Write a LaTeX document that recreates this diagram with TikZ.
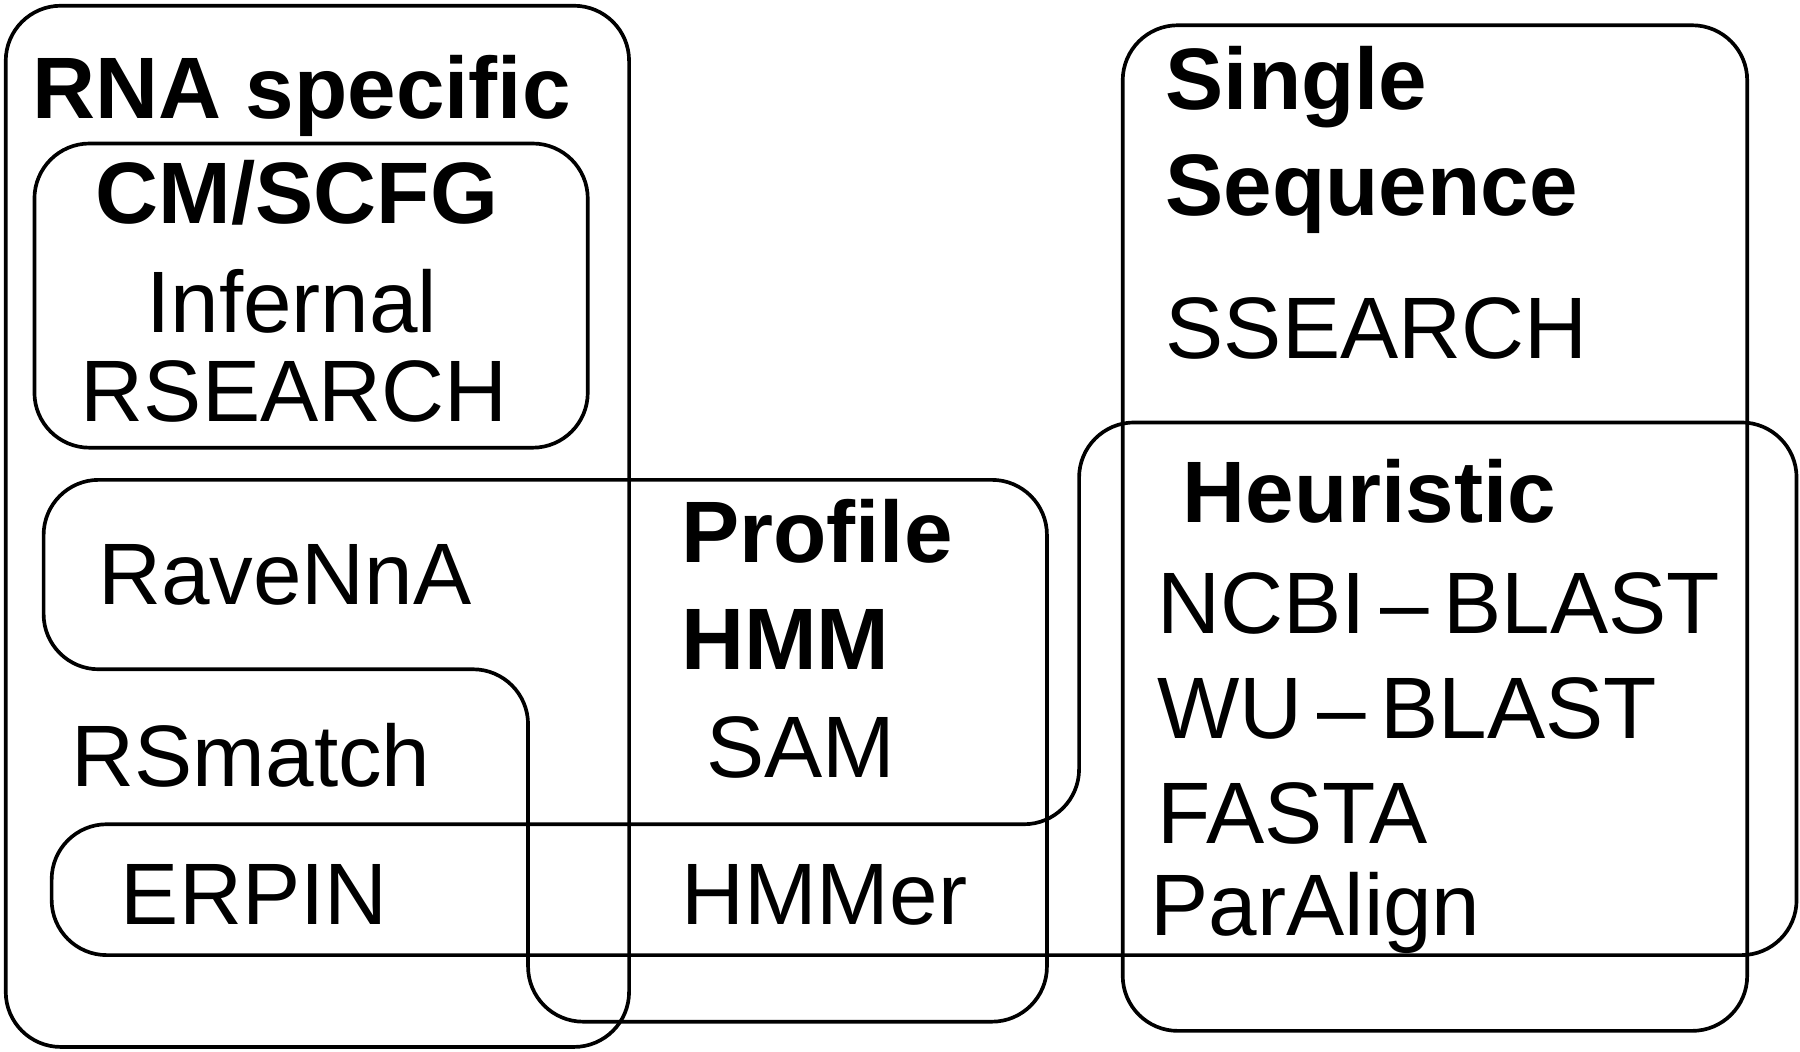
\documentclass[tikz,border=0pt]{standalone}
\usepackage{fontspec}
\setmainfont{Liberation Sans}
\begin{document}
\begin{tikzpicture}[x=0.5pt,y=-0.5pt,
  lbl/.style={anchor=base west,inner sep=0pt,font=\fontsize{38}{40}\selectfont},
  hd/.style={lbl,font=\fontsize{38}{40}\selectfont\bfseries},
  bx/.style={line width=1.6pt,rounded corners=24pt}]
\useasboundingbox (0,0) rectangle (1568,916);
\draw[bx] (5,5) rectangle (548,912);
\draw[bx] (30,125) rectangle (512,390);
\draw[bx] (978,22) rectangle (1522,898);
\draw[bx] (38,418) -- (912,418) -- (912,890) -- (460,890) -- (460,583) -- (38,583) -- cycle;
\draw[bx] (940,368) -- (1565,368) -- (1565,832) -- (45,832) -- (45,718) -- (940,718) -- cycle;
\node[hd] (rna) at (28,103) {RNA specific};
\node[hd] (cm) at (83,195) {CM/SCFG};
\node[lbl] (inf) at (127,290) {Infernal};
\node[lbl] (rs) at (70,367) {RSEARCH};
\node[lbl] (rav) at (85,527) {RaveNnA};
\node[lbl] (rsm) at (62,685) {RSmatch};
\node[lbl] (erp) at (105,805) {ERPIN};
\node[hd] (pro) at (593,490) {Profile};
\node[hd] (hmm) at (593,583) {HMM};
\node[lbl] (sam) at (615,677) {SAM};
\node[lbl] (hmr) at (593,805) {HMMer};
\node[hd] (sin) at (1015,95) {Single};
\node[hd] (seq) at (1015,188) {Sequence};
\node[lbl] (ss) at (1015,312) {SSEARCH};
\node[hd] (heu) at (1030,455) {Heuristic};
\node[lbl] (ncbi) at (1008,552) {NCBI\,--\,BLAST};
\node[lbl] (wu) at (1008,643) {WU\,--\,BLAST};
\node[lbl] (fa) at (1008,735) {FASTA};
\node[lbl] (par) at (1002,815) {ParAlign};
\end{tikzpicture}
\end{document}
